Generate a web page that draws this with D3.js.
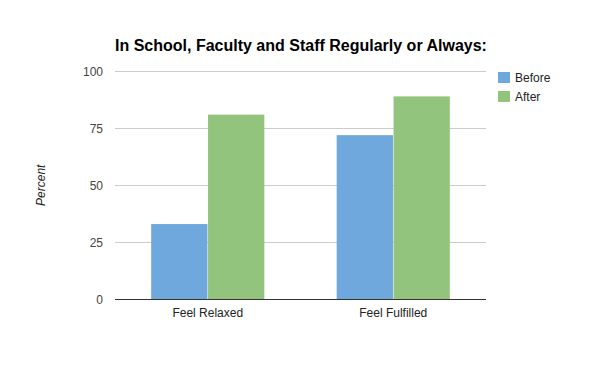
<!DOCTYPE html>
<html><head><meta charset="utf-8">
<script src="https://cdn.jsdelivr.net/npm/d3@7"></script>
<style>body{margin:0;background:#fff}svg{display:block}text{font-family:"Liberation Sans",Arial,sans-serif}</style>
</head><body><svg id="c" width="600" height="371"></svg>
<script>
const categories = ["Feel Relaxed", "Feel Fulfilled"];
const seriesNames = ["Before", "After"];
const beforeValues = [33, 72];
const afterValues = [81, 89];
const yTicks = [0, 25, 50, 75, 100];
const colors = ["#6fa8dc", "#93c47d"];
const title = "In School, Faculty and Staff Regularly or Always:";
const yLabel = "Percent";

const svg = d3.select("#c");
const m = {l:115, r:486, t:71.3, b:299.3};
const x = d3.scaleBand().domain(categories).range([m.l, m.r]).paddingInner(0.39).paddingOuter(0.195);
const xs = d3.scaleBand().domain(seriesNames).range([0, x.bandwidth()]).paddingInner(0.01);
const y = d3.scaleLinear().domain([0, 100]).range([m.b, m.t]);

// grid
svg.append("g").selectAll("line").data(yTicks.filter(d=>d>0)).join("line")
  .attr("x1", m.l).attr("x2", m.r).attr("y1", d=>Math.round(y(d))+0.5).attr("y2", d=>Math.round(y(d))+0.5)
  .attr("stroke", "#cccccc").attr("stroke-width", 1);

// y tick labels
svg.append("g").selectAll("text").data(yTicks).join("text")
  .attr("x", 103).attr("y", d=>y(d)+4.5).attr("text-anchor","end")
  .attr("font-size", 12).attr("fill", "#444").text(d=>d);

// bars
const data = categories.map((c,i)=>({c, vals:[beforeValues[i], afterValues[i]]}));
const g = svg.append("g").selectAll("g").data(data).join("g").attr("transform", d=>`translate(${x(d.c)},0)`);
g.selectAll("rect").data(d=>d.vals.map((v,j)=>({s:seriesNames[j], v, j}))).join("rect")
  .attr("x", d=>xs(d.s)).attr("width", xs.bandwidth())
  .attr("y", d=>y(d.v)).attr("height", d=>y(0)-y(d.v))
  .attr("fill", d=>colors[d.j]);

// axis line
svg.append("line").attr("x1", m.l).attr("x2", m.r).attr("y1", Math.round(y(0))+0.5).attr("y2", Math.round(y(0))+0.5)
  .attr("stroke", "#333").attr("stroke-width", 1);

// category labels
svg.append("g").selectAll("text").data(categories).join("text")
  .attr("x", d=>x(d)+x.bandwidth()/2).attr("y", 316.5).attr("text-anchor","middle")
  .attr("font-size", 12).attr("fill", "#222").text(d=>d);

// title
svg.append("text").attr("x", 115).attr("y", 50.5).attr("font-size", 16).attr("font-weight","bold")
  .attr("fill","#000").text(title);

// y label
svg.append("text").attr("transform", `translate(45,${(m.t+m.b)/2}) rotate(-90)`).attr("text-anchor","middle")
  .attr("font-size", 12).attr("font-style","italic").attr("fill","#222").text(yLabel);

// legend
const lg = svg.append("g").selectAll("g").data(seriesNames).join("g")
  .attr("transform", (d,i)=>`translate(498,${72+i*19})`);
lg.append("rect").attr("width", 12).attr("height", 11).attr("fill", (d,i)=>colors[i]);
lg.append("text").attr("x", 17).attr("y", 9.5).attr("font-size", 12).attr("fill","#222").text(d=>d);
</script></body></html>
